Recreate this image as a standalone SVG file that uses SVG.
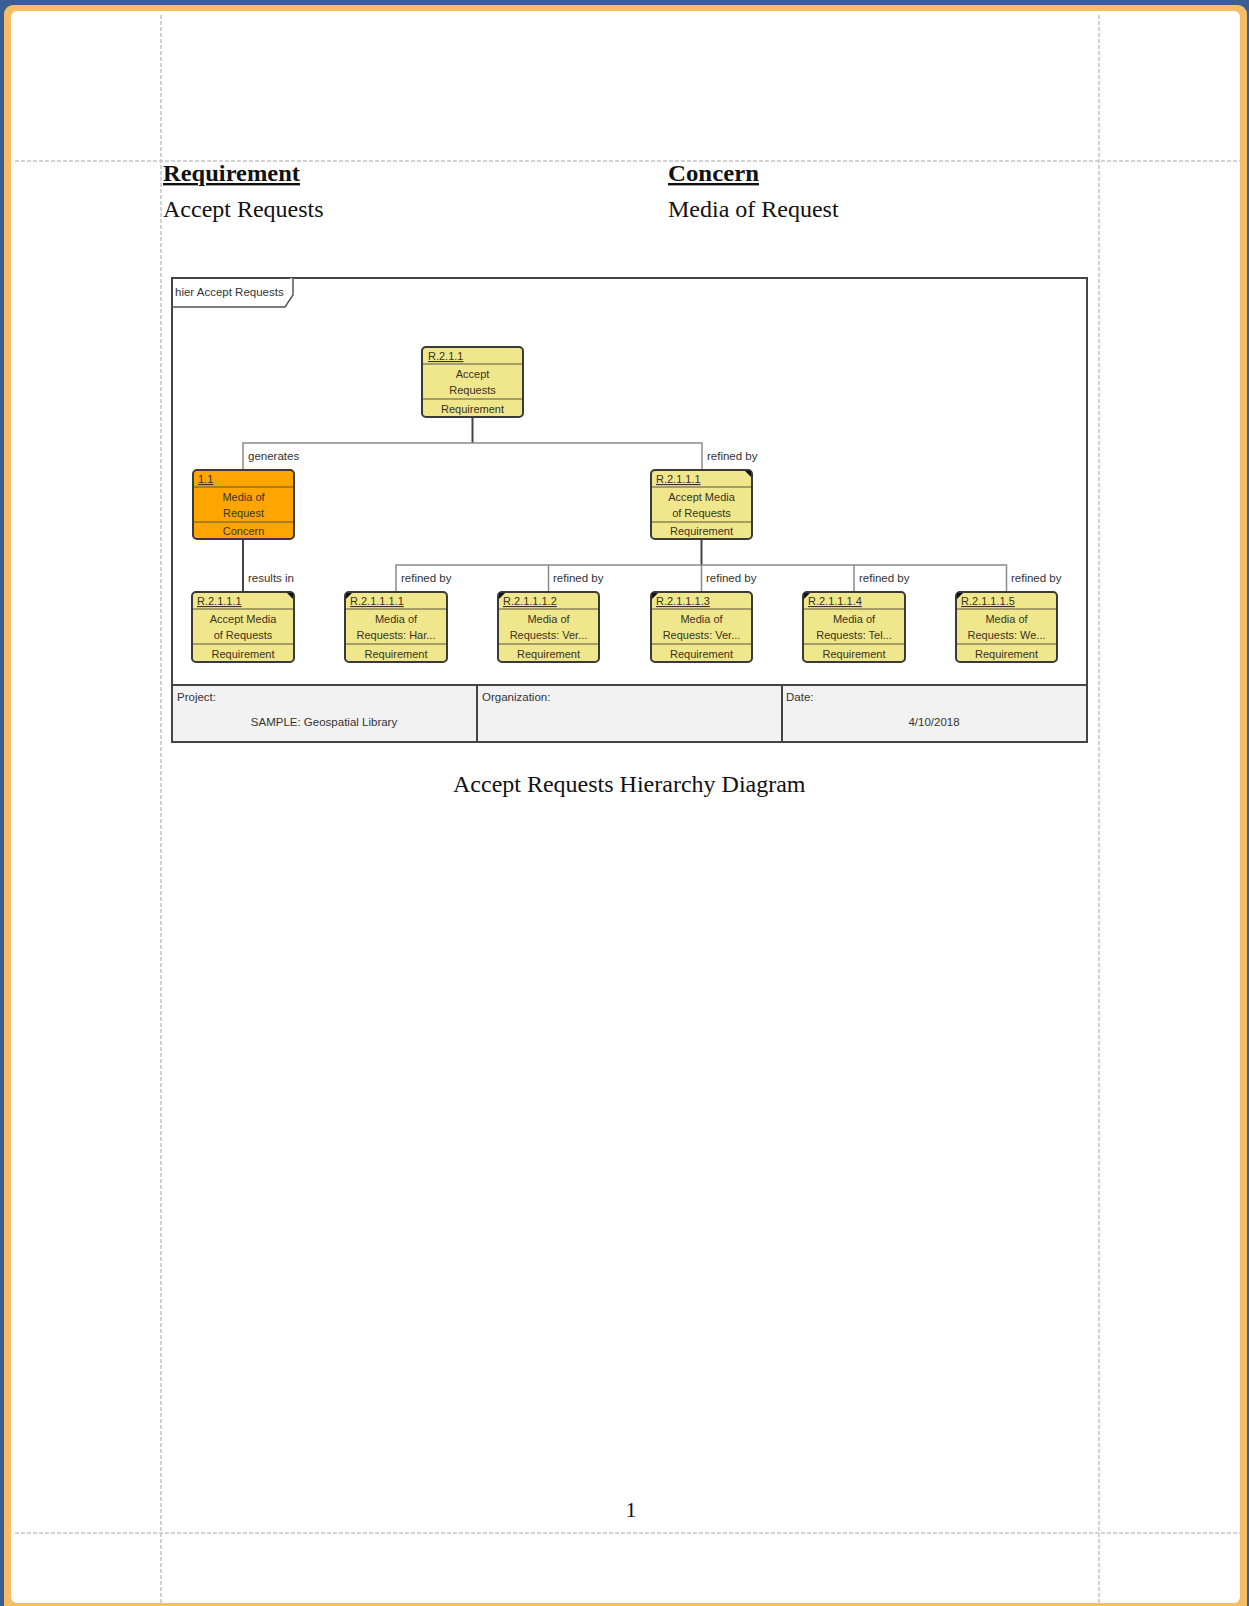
<svg xmlns="http://www.w3.org/2000/svg" width="1249" height="1606" viewBox="0 0 1249 1606">
<style>
.guide{stroke:#c4c4c4;stroke-width:1.5;stroke-dasharray:4 2;fill:none}
.doc{font-family:"Liberation Serif","Times New Roman",serif;fill:#111}
.small{font-family:"Liberation Sans",Arial,sans-serif;font-size:11.5px;fill:#333}
.nt{font-family:"Liberation Sans",Arial,sans-serif;font-size:11px;fill:#3a3320}
.box{stroke:#3a3a3a;stroke-width:2}
.req{fill:#F0E68C}
.con{fill:#FFA500}
.div{stroke:#5a5440;stroke-width:1}
.conn{stroke:#8a8a8a;stroke-width:1.5;fill:none}
.stub{stroke:#444;stroke-width:2;fill:none}
.mark{fill:#111}
</style>
<rect x="0" y="0" width="1249" height="1606" fill="#3b5e92"/>
<rect x="4" y="5" width="1243" height="1610" rx="9" fill="#F5BD65"/>
<rect x="11" y="11" width="1229" height="1592" rx="6" fill="#ffffff"/>
<g id="guides">
<line class="guide" x1="161" y1="15" x2="161" y2="1603"/>
<line class="guide" x1="1099" y1="15" x2="1099" y2="1603"/>
<line class="guide" x1="15" y1="161" x2="1240" y2="161"/>
<line class="guide" x1="15" y1="1533" x2="1240" y2="1533"/>
</g>
<g id="header">
<text class="doc" x="163" y="181" font-size="24" font-weight="bold" text-decoration="underline" textLength="137" lengthAdjust="spacingAndGlyphs">Requirement</text>
<text class="doc" x="163" y="217" font-size="24">Accept Requests</text>
<text class="doc" x="668" y="181" font-size="24" font-weight="bold" text-decoration="underline" textLength="91" lengthAdjust="spacingAndGlyphs">Concern</text>
<text class="doc" x="668" y="217" font-size="24">Media of Request</text>
</g>
<g id="frame">
<rect x="172" y="278" width="915" height="464" fill="#ffffff" stroke="#444" stroke-width="2"/>
<path d="M172,307 L285,307 L293,295 L293,278" fill="#ffffff" stroke="#555" stroke-width="1.5"/>
<text class="small" x="175" y="296">hier Accept Requests</text>
</g>
<g id="titleblock">
<rect x="172" y="685" width="915" height="57" fill="#f2f2f2" stroke="#444" stroke-width="2"/>
<line x1="477" y1="685" x2="477" y2="742" stroke="#444" stroke-width="2"/>
<line x1="782" y1="685" x2="782" y2="742" stroke="#444" stroke-width="2"/>
<text class="small" x="177" y="701">Project:</text>
<text class="small" x="324" y="726" text-anchor="middle">SAMPLE: Geospatial Library</text>
<text class="small" x="482" y="701">Organization:</text>
<text class="small" x="786" y="701">Date:</text>
<text class="small" x="934" y="726" text-anchor="middle">4/10/2018</text>
</g>
<g id="connectors">
<line class="stub" x1="472.5" y1="417" x2="472.5" y2="443"/>
<path class="conn" d="M243,470 L243,443 L702,443 L702,470"/>
<line class="stub" x1="243" y1="539" x2="243" y2="592"/>
<line class="stub" x1="701.5" y1="539" x2="701.5" y2="565"/>
<path class="conn" d="M396,592 L396,565 L1006.5,565 L1006.5,592"/>
<line class="conn" x1="548.5" y1="565" x2="548.5" y2="592"/>
<line class="conn" x1="701.5" y1="565" x2="701.5" y2="592"/>
<line class="conn" x1="854" y1="565" x2="854" y2="592"/>
<text class="small" x="248" y="460">generates</text>
<text class="small" x="707" y="460">refined by</text>
<text class="small" x="248" y="582">results in</text>
<text class="small" x="401" y="582">refined by</text>
<text class="small" x="553" y="582">refined by</text>
<text class="small" x="706" y="582">refined by</text>
<text class="small" x="859" y="582">refined by</text>
<text class="small" x="1011" y="582">refined by</text>
</g>
<g id="n-R211">
<rect class="box req" x="422" y="347" width="101" height="70" rx="4"/>
<line class="div" x1="423" y1="364" x2="522" y2="364"/>
<line class="div" x1="423" y1="399" x2="522" y2="399"/>
<text class="nt" x="428" y="360" text-decoration="underline">R.2.1.1</text>
<text class="nt" x="472.5" y="378" text-anchor="middle">Accept</text>
<text class="nt" x="472.5" y="394" text-anchor="middle">Requests</text>
<text class="nt" x="472.5" y="413" text-anchor="middle">Requirement</text>
</g>
<g id="n-11">
<rect class="box con" x="193" y="470" width="101" height="69" rx="4"/>
<line class="div" x1="194" y1="487" x2="293" y2="487"/>
<line class="div" x1="194" y1="522" x2="293" y2="522"/>
<text class="nt" x="198" y="483" text-decoration="underline">1.1</text>
<text class="nt" x="243.5" y="501" text-anchor="middle">Media of</text>
<text class="nt" x="243.5" y="517" text-anchor="middle">Request</text>
<text class="nt" x="243.5" y="535" text-anchor="middle">Concern</text>
</g>
<g id="n-R2111">
<rect class="box req" x="651" y="470" width="101" height="69" rx="4"/>
<line class="div" x1="652" y1="487" x2="751" y2="487"/>
<line class="div" x1="652" y1="522" x2="751" y2="522"/>
<path class="mark" d="M745,471 L751,471 L751,477 Z"/>
<text class="nt" x="656" y="483" text-decoration="underline">R.2.1.1.1</text>
<text class="nt" x="701.5" y="501" text-anchor="middle">Accept Media</text>
<text class="nt" x="701.5" y="517" text-anchor="middle">of Requests</text>
<text class="nt" x="701.5" y="535" text-anchor="middle">Requirement</text>
</g>
<g id="n-R2111-ref">
<rect class="box req" x="192" y="592" width="102" height="70" rx="4"/>
<line class="div" x1="193" y1="609" x2="293" y2="609"/>
<line class="div" x1="193" y1="644" x2="293" y2="644"/>
<path class="mark" d="M287,593 L293,593 L293,599 Z"/>
<text class="nt" x="197" y="605" text-decoration="underline">R.2.1.1.1</text>
<text class="nt" x="243" y="623" text-anchor="middle">Accept Media</text>
<text class="nt" x="243" y="639" text-anchor="middle">of Requests</text>
<text class="nt" x="243" y="658" text-anchor="middle">Requirement</text>
</g>
<g id="n-R21111">
<rect class="box req" x="345" y="592" width="102" height="70" rx="4"/>
<line class="div" x1="346" y1="609" x2="446" y2="609"/>
<line class="div" x1="346" y1="644" x2="446" y2="644"/>
<path class="mark" d="M346,593 L352,593 L346,599 Z"/>
<text class="nt" x="350" y="605" text-decoration="underline">R.2.1.1.1.1</text>
<text class="nt" x="396" y="623" text-anchor="middle">Media of</text>
<text class="nt" x="396" y="639" text-anchor="middle">Requests: Har...</text>
<text class="nt" x="396" y="658" text-anchor="middle">Requirement</text>
</g>
<g id="n-R21112">
<rect class="box req" x="498" y="592" width="101" height="70" rx="4"/>
<line class="div" x1="499" y1="609" x2="598" y2="609"/>
<line class="div" x1="499" y1="644" x2="598" y2="644"/>
<path class="mark" d="M499,593 L505,593 L499,599 Z"/>
<text class="nt" x="503" y="605" text-decoration="underline">R.2.1.1.1.2</text>
<text class="nt" x="548.5" y="623" text-anchor="middle">Media of</text>
<text class="nt" x="548.5" y="639" text-anchor="middle">Requests: Ver...</text>
<text class="nt" x="548.5" y="658" text-anchor="middle">Requirement</text>
</g>
<g id="n-R21113">
<rect class="box req" x="651" y="592" width="101" height="70" rx="4"/>
<line class="div" x1="652" y1="609" x2="751" y2="609"/>
<line class="div" x1="652" y1="644" x2="751" y2="644"/>
<path class="mark" d="M652,593 L658,593 L652,599 Z"/>
<text class="nt" x="656" y="605" text-decoration="underline">R.2.1.1.1.3</text>
<text class="nt" x="701.5" y="623" text-anchor="middle">Media of</text>
<text class="nt" x="701.5" y="639" text-anchor="middle">Requests: Ver...</text>
<text class="nt" x="701.5" y="658" text-anchor="middle">Requirement</text>
</g>
<g id="n-R21114">
<rect class="box req" x="803" y="592" width="102" height="70" rx="4"/>
<line class="div" x1="804" y1="609" x2="904" y2="609"/>
<line class="div" x1="804" y1="644" x2="904" y2="644"/>
<path class="mark" d="M804,593 L810,593 L804,599 Z"/>
<text class="nt" x="808" y="605" text-decoration="underline">R.2.1.1.1.4</text>
<text class="nt" x="854" y="623" text-anchor="middle">Media of</text>
<text class="nt" x="854" y="639" text-anchor="middle">Requests: Tel...</text>
<text class="nt" x="854" y="658" text-anchor="middle">Requirement</text>
</g>
<g id="n-R21115">
<rect class="box req" x="956" y="592" width="101" height="70" rx="4"/>
<line class="div" x1="957" y1="609" x2="1056" y2="609"/>
<line class="div" x1="957" y1="644" x2="1056" y2="644"/>
<path class="mark" d="M957,593 L963,593 L957,599 Z"/>
<text class="nt" x="961" y="605" text-decoration="underline">R.2.1.1.1.5</text>
<text class="nt" x="1006.5" y="623" text-anchor="middle">Media of</text>
<text class="nt" x="1006.5" y="639" text-anchor="middle">Requests: We...</text>
<text class="nt" x="1006.5" y="658" text-anchor="middle">Requirement</text>
</g>
<g id="caption">
<text class="doc" x="453" y="792" font-size="24">Accept Requests Hierarchy Diagram</text>
<text class="doc" x="631" y="1517" font-size="22" text-anchor="middle">1</text>
</g>
</svg>
